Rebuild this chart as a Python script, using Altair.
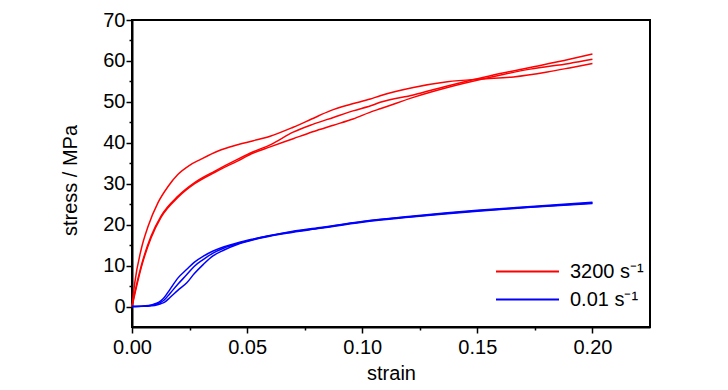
import altair as alt
import pandas as pd

# ---- data ----
red_a_x = [0, 0.0012, 0.004, 0.007, 0.0113, 0.0155, 0.02, 0.025, 0.030, 0.0374, 0.045, 0.0527,
           0.060, 0.070, 0.078, 0.086, 0.095, 0.1035, 0.1078, 0.1222, 0.137, 0.1513, 0.1657,
           0.1804, 0.190, 0.2]
red_a_y = [0, 5.8, 14.0, 19.6, 25.4, 29.2, 32.3, 34.5, 36.0, 38.0, 39.4, 40.5,
           41.6, 43.8, 45.8, 47.8, 49.4, 50.7, 51.5, 53.5, 54.9, 55.6, 56.1,
           57.3, 58.3, 59.4]

red_bc_x = [0, 0.0012, 0.004, 0.0083, 0.0126, 0.02, 0.0272, 0.036, 0.046, 0.0527, 0.060, 0.070,
            0.0785, 0.0875, 0.096, 0.105, 0.1078, 0.1222, 0.137, 0.1557, 0.173, 0.19, 0.2]
red_b_y = [0, 3.4, 9.9, 17.2, 22.1, 27.0, 30.3, 33.1, 36.0, 37.8, 39.5, 42.6,
           44.5, 46.2, 47.8, 49.3, 49.9, 51.7, 53.9, 56.4, 58.4, 60.4, 61.7]
red_c_y = [0, 3.0, 9.5, 16.8, 21.8, 26.7, 30.0, 32.8, 35.6, 37.5, 39.0, 41.0,
           42.7, 44.3, 45.8, 47.8, 48.3, 51.1, 53.5, 56.0, 58.0, 59.4, 60.4]

blue_x = [0, 0.005, 0.0085, 0.0107, 0.0125, 0.0140, 0.0165, 0.02, 0.0238, 0.027, 0.031, 0.035,
          0.040, 0.046, 0.0527, 0.067, 0.0817, 0.10, 0.12, 0.15, 0.175, 0.2]
blue_1_y = [0, 0.15, 0.4, 0.8, 1.4, 2.2, 4.2, 7.0, 9.1, 10.8, 12.3, 13.5,
            14.6, 15.6, 16.5, 18.1, 19.3, 20.8, 22.0, 23.5, 24.5, 25.5]
blue_2_y = [0, 0.1, 0.3, 0.6, 1.0, 1.6, 3.2, 5.5, 7.8, 9.8, 11.5, 13.0,
            14.3, 15.4, 16.4, 18.0, 19.2, 20.7, 21.9, 23.4, 24.4, 25.3]
blue_3_y = [0, 0.05, 0.2, 0.4, 0.7, 1.0, 2.2, 4.0, 5.8, 8.0, 10.3, 12.3,
            13.8, 15.2, 16.3, 17.9, 19.1, 20.6, 21.8, 23.3, 24.3, 25.2]

series_labels = ["3200 s⁻¹", "0.01 s⁻¹"]
series_colors = ["#ff0000", "#0000ff"]

x_ticks = [0, 0.025, 0.05, 0.075, 0.1, 0.125, 0.15, 0.175, 0.2]
y_ticks = [0, 5, 10, 15, 20, 25, 30, 35, 40, 45, 50, 55, 60, 65, 70]

rows = []
def add(label, run, xs, ys):
    for i, (x, y) in enumerate(zip(xs, ys)):
        rows.append({"rate": label, "run": run, "order": i, "strain": x, "stress": y})

add(series_labels[0], "a", red_a_x, red_a_y)
add(series_labels[0], "b", red_bc_x, red_b_y)
add(series_labels[0], "c", red_bc_x, red_c_y)
add(series_labels[1], "d", blue_x, blue_1_y)
add(series_labels[1], "e", blue_x, blue_2_y)
add(series_labels[1], "f", blue_x, blue_3_y)
df = pd.DataFrame(rows)

FONT = "Liberation Sans"

chart = alt.Chart(df).mark_line(strokeWidth=1.5, interpolate="monotone").encode(
    x=alt.X("strain:Q",
            scale=alt.Scale(domain=[0, 0.225], nice=False, zero=False),
            axis=alt.Axis(title="strain", values=x_ticks, labelFlush=False,
                          labelExpr="round(datum.value*40) % 2 === 0 ? format(datum.value, '.2f') : ''",
                          tickSize={"condition": {"test": "round(datum.value*40) % 2 === 0", "value": 6}, "value": 3},
                          labelPadding=4, titlePadding=6, grid=False)),
    y=alt.Y("stress:Q",
            scale=alt.Scale(domain=[-5, 70], nice=False, zero=False),
            axis=alt.Axis(title="stress / MPa", values=y_ticks, labelFlush=False,
                          labelExpr="datum.value % 10 === 0 ? datum.value : ''",
                          tickSize={"condition": {"test": "datum.value % 10 === 0", "value": 6}, "value": 3},
                          labelPadding=1, titlePadding=22, titleY=160, grid=False)),
    color=alt.Color("rate:N",
                    scale=alt.Scale(domain=series_labels, range=series_colors),
                    legend=alt.Legend(title=None, orient="none", legendX=363, legendY=240,
                                      symbolType="M-1,0H5", symbolSize=441, symbolStrokeWidth=2,
                                      labelOffset=52, rowPadding=6, labelFontSize=20,
                                      labelFont=FONT, labelColor="black")),
    detail="run:N",
    order="order:Q",
).properties(
    width=518, height=307,
    autosize=alt.AutoSizeParams(type="none"),
    padding={"left": 124, "top": 12, "right": 70, "bottom": 55},
).configure_view(
    stroke="black", strokeWidth=2
).configure_axis(
    labelFont=FONT, titleFont=FONT, labelFontSize=20, titleFontSize=20,
    titleFontWeight="normal", labelColor="black", titleColor="black",
    domainColor="black", domainWidth=2, tickColor="black", tickWidth=1.5,
)

chart.save("out.html", embed_options={"renderer": "svg", "actions": False})
